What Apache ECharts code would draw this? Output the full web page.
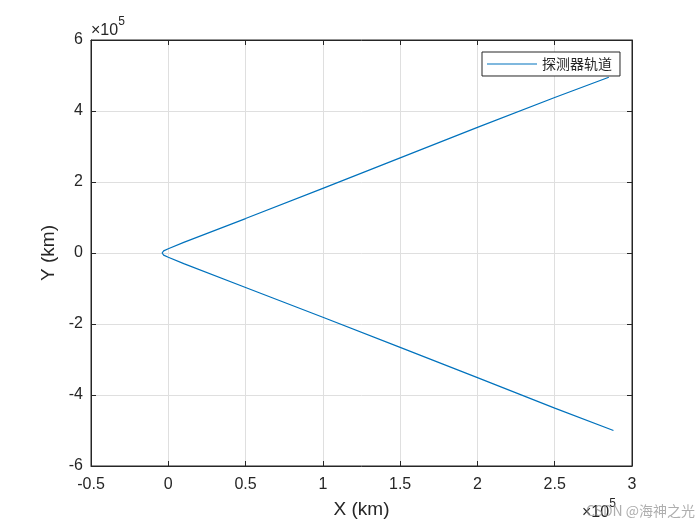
<!DOCTYPE html>
<html lang="zh">
<head>
    <meta charset="UTF-8">
    <title>探测器轨道</title>
    <script src="https://cdn.jsdelivr.net/npm/echarts@6/dist/echarts.min.js"></script>
    <style>
        html, body { margin: 0; padding: 0; background: #fff; }
        #main { width: 700px; height: 525px; }
    </style>
</head>
<body>
<div id="main"></div>
<script>
    // 轨道点 (km)，从图上读出：下支末端 -> 近拱点 -> 上支末端
    var xKm = [288000, 250000, 200000, 150000, 100000, 50000, 10000, 0, -3000, -4000,
               -3000, 0, 10000, 50000, 100000, 150000, 200000, 250000, 285000];
    var yKm = [-500000, -437000, -351000, -266000, -181000, -97000, -30000, -12000, -6000, 0,
               6000, 12000, 30000, 97000, 182000, 268000, 354000, 438000, 495000];
    var xTicks = [-0.5, 0, 0.5, 1, 1.5, 2, 2.5, 3];
    var yTicks = [-6, -4, -2, 0, 2, 4, 6];
    var seriesName = '探测器轨道';

    var pts = xKm.map(function (x, i) { return [x, yKm[i]]; });
    var txt = '#262626';
    var font = 'Helvetica, Arial, "Liberation Sans", sans-serif';

    var myChart = echarts.init(document.getElementById('main'));
    var tickFmt = function (v) { return String(Math.round(v / 1e4) / 10); };
    var expText = function (left, top) {
        return {
            type: 'text', left: left, top: top,
            style: {
                text: '{a|×10}{b|5}',
                rich: {
                    a: { fontFamily: font, fontSize: 16, fill: txt, padding: [7, 0, 0, 0] },
                    b: { fontFamily: font, fontSize: 12, fill: txt, verticalAlign: 'top' }
                }
            }
        };
    };
    var option = {
        animation: false,
        grid: {
            left: 91, right: 68, top: 40, bottom: 59,
            show: true, borderColor: txt, borderWidth: 1
        },
        legend: {
            data: [seriesName],
            left: 482, top: 52,
            orient: 'vertical',
            backgroundColor: '#fff',
            borderColor: txt, borderWidth: 1,
            padding: [5, 8, 5, 5],
            icon: 'rect', itemWidth: 50, itemHeight: 1,
            textStyle: { fontFamily: '"Noto Sans CJK SC"', fontSize: 14, color: txt }
        },
        xAxis: [{
            type: 'value', min: xTicks[0] * 1e5, max: xTicks[xTicks.length - 1] * 1e5, interval: 50000,
            name: 'X (km)', nameLocation: 'middle', nameGap: 34,
            nameTextStyle: { fontFamily: font, fontSize: 19, color: txt },
            axisLine: { show: true, onZero: false, lineStyle: { color: txt } },
            axisTick: { show: true, inside: true, length: 5, lineStyle: { color: txt } },
            axisLabel: { formatter: tickFmt, fontFamily: font, fontSize: 16, color: txt, margin: 11 },
            splitLine: { show: true, lineStyle: { color: '#dfdfdf' } }
        }, {
            type: 'value', position: 'top', min: -50000, max: 300000, interval: 50000,
            axisLine: { show: true, onZero: false, lineStyle: { color: txt } },
            axisTick: { show: true, inside: true, length: 5, lineStyle: { color: txt } },
            axisLabel: { show: false }, splitLine: { show: false }
        }],
        yAxis: [{
            type: 'value', min: yTicks[0] * 1e5, max: yTicks[yTicks.length - 1] * 1e5, interval: 200000,
            name: 'Y (km)', nameLocation: 'middle', nameGap: 27,
            nameTextStyle: { fontFamily: font, fontSize: 19, color: txt },
            axisLine: { show: true, onZero: false, lineStyle: { color: txt } },
            axisTick: { show: true, inside: true, length: 5, lineStyle: { color: txt } },
            axisLabel: { formatter: tickFmt, fontFamily: font, fontSize: 16, color: txt, margin: 8 },
            splitLine: { show: true, lineStyle: { color: '#dfdfdf' } }
        }, {
            type: 'value', position: 'right', min: -600000, max: 600000, interval: 200000,
            axisLine: { show: true, onZero: false, lineStyle: { color: txt } },
            axisTick: { show: true, inside: true, length: 5, lineStyle: { color: txt } },
            axisLabel: { show: false }, splitLine: { show: false }
        }],
        graphic: [
            expText(91, 16),
            expText(582, 498),
            {
                type: 'text', left: 586, top: 504,
                style: { text: 'CSDN @海神之光', fontFamily: '"Noto Sans CJK SC"', fontSize: 14, fill: 'rgba(140,140,140,0.7)' }
            }
        ],
        series: [{
            name: seriesName, type: 'line', data: pts,
            showSymbol: false, smooth: false,
            lineStyle: { color: '#0072BD', width: 1.2 },
            itemStyle: { color: '#0072BD' }
        }]
    };
    myChart.setOption(option, true);
</script>
</body>
</html>
